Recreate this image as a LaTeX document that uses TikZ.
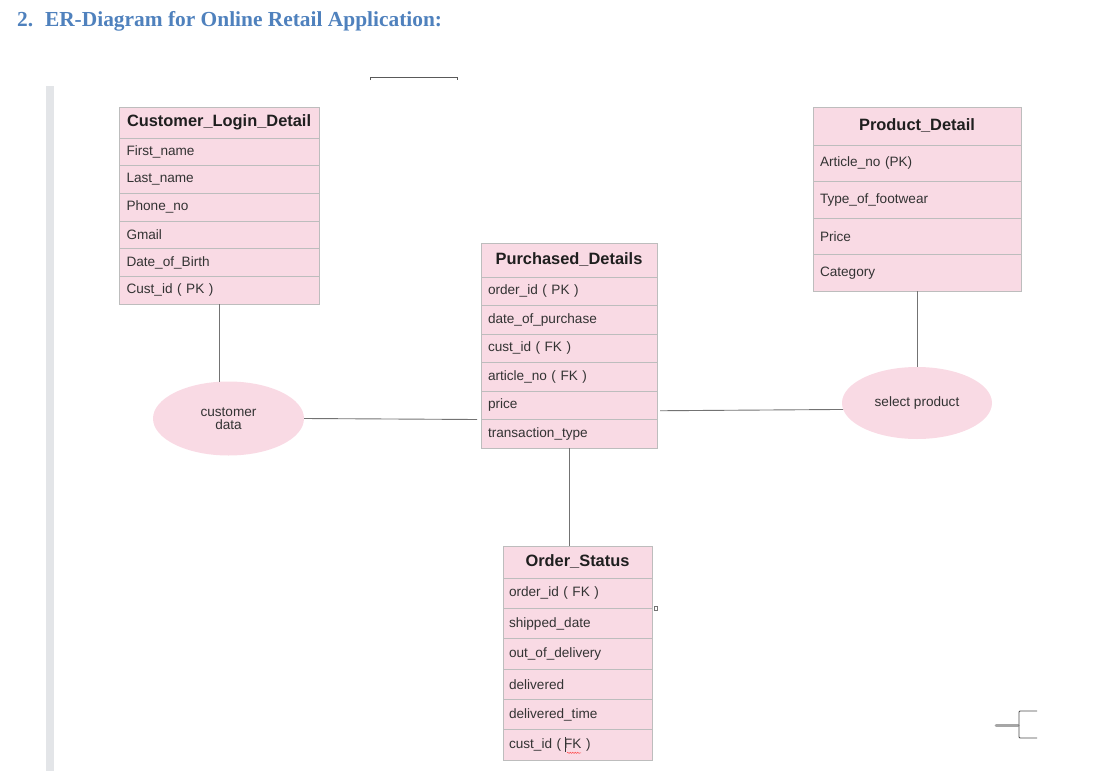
\documentclass[tikz,border=0pt]{standalone}
\usepackage{fontspec}
\setmainfont{Liberation Sans}
\newfontfamily\titlefont{Liberation Serif}
\usetikzlibrary{shapes.geometric,calc,decorations.pathmorphing}
\definecolor{cellpink}{HTML}{F9DAE4}
\definecolor{cellline}{HTML}{BDBDBD}
\definecolor{rowtxt}{HTML}{333333}
\definecolor{titleblue}{HTML}{4F81BD}
\definecolor{barcol}{HTML}{E3E5E8}
\tikzset{
  hdrleft/.style={draw=cellline, fill=cellpink, line width=0.8pt, outer sep=0pt, anchor=north west, inner xsep=8pt, inner ysep=0pt, align=left, text=black!88, font=\fontsize{16.4}{18}\selectfont\bfseries},
  hdrmid/.style={draw=cellline, fill=cellpink, line width=0.8pt, outer sep=0pt, anchor=north west, inner xsep=0pt, inner ysep=0pt, align=center, text=black!88, font=\fontsize{16.4}{18}\selectfont\bfseries},
  cell/.style={draw=cellline, fill=cellpink, line width=0.8pt, outer sep=0pt, anchor=north west, inner xsep=7pt, inner ysep=0pt, align=left, text=rowtxt, font=\fontsize{13.6}{15}\selectfont},
  attr/.style={ellipse, fill=cellpink, inner sep=0pt, outer sep=0pt, text=rowtxt, align=center, font=\fontsize{13.6}{12.5}\selectfont},
  link/.style={draw=black!55, line width=0.9pt}
}
\begin{document}
\begin{tikzpicture}[x=1pt,y=-1pt]
\useasboundingbox (0,0) rectangle (1096,771);
% title
\node[anchor=base west, inner sep=0pt, text=titleblue, font=\fontsize{21.4}{23}\selectfont\titlefont\bfseries] (title) at (17,26) {2.\hspace{0.55em}ER-Diagram for Online Retail Application:};
% left bar
\fill[barcol] (46,86) rectangle (54,771);
% top stray line
\draw[black!65, line width=0.8pt] (370,80) -- (370,77) -- (457,77) -- (457,80);

% Customer_Login_Detail
\node[hdrleft, text width=184pt, minimum height=31pt] (c0) at (119,107) {Customer\_Login\_Detail};
\node[cell, text width=185pt, inner xsep=7.5pt, minimum height=27.67pt] (c1) at (c0.south west) {First\_name};
\node[cell, text width=185pt, inner xsep=7.5pt, minimum height=27.67pt] (c2) at (c1.south west) {Last\_name};
\node[cell, text width=185pt, inner xsep=7.5pt, minimum height=27.67pt] (c3) at (c2.south west) {Phone\_no};
\node[cell, text width=185pt, inner xsep=7.5pt, minimum height=27.67pt] (c4) at (c3.south west) {Gmail};
\node[cell, text width=185pt, inner xsep=7.5pt, minimum height=27.67pt] (c5) at (c4.south west) {Date\_of\_Birth};
\node[cell, text width=185pt, inner xsep=7.5pt, minimum height=27.67pt] (c6) at (c5.south west) {Cust\_id ( PK )};

% Product_Detail
\node[hdrmid, text width=208pt, minimum height=38pt] (d0) at (813,107) {Product\_Detail};
\node[cell, text width=194pt, minimum height=36.5pt] (d1) at (d0.south west) {Article\_no (PK)};
\node[cell, text width=194pt, minimum height=36.5pt] (d2) at (d1.south west) {Type\_of\_footwear};
\node[cell, text width=194pt, minimum height=36.5pt] (d3) at (d2.south west) {Price};
\node[cell, text width=194pt, minimum height=36.5pt] (d4) at (d3.south west) {Category};

% Purchased_Details
\node[hdrmid, text width=176pt, minimum height=34pt] (p0) at (481,243) {Purchased\_Details};
\node[cell, text width=162pt, minimum height=28.5pt] (p1) at (p0.south west) {order\_id ( PK )};
\node[cell, text width=162pt, minimum height=28.5pt] (p2) at (p1.south west) {date\_of\_purchase};
\node[cell, text width=162pt, minimum height=28.5pt] (p3) at (p2.south west) {cust\_id ( FK )};
\node[cell, text width=162pt, minimum height=28.5pt] (p4) at (p3.south west) {article\_no ( FK )};
\node[cell, text width=162pt, minimum height=28.5pt] (p5) at (p4.south west) {price};
\node[cell, text width=162pt, minimum height=28.5pt] (p6) at (p5.south west) {transaction\_type};

% Order_Status
\node[hdrmid, text width=149pt, minimum height=32pt] (o0) at (503,546) {Order\_Status};
\node[cell, text width=137pt, inner xsep=6pt, minimum height=30.33pt] (o1) at (o0.south west) {order\_id ( FK )};
\node[cell, text width=137pt, inner xsep=6pt, minimum height=30.33pt] (o2) at (o1.south west) {shipped\_date};
\node[cell, text width=137pt, inner xsep=6pt, minimum height=30.33pt] (o3) at (o2.south west) {out\_of\_delivery};
\node[cell, text width=137pt, inner xsep=6pt, minimum height=30.33pt] (o4) at (o3.south west) {delivered};
\node[cell, text width=137pt, inner xsep=6pt, minimum height=30.33pt] (o5) at (o4.south west) {delivered\_time};
\node[cell, text width=137pt, inner xsep=6pt, minimum height=30.33pt] (o6) at (o5.south west) {cust\_id (\hspace{3pt}FK )};
\draw[black!55, line width=0.6pt] ([xshift=2pt]o1.south east) ++(0,-2) rectangle ++(3,4);
\draw[black!80, line width=0.7pt] ($(o6.west)+(62,-8)$) -- ++(0,15);
\draw[red!70, line width=0.5pt, decorate, decoration={snake, amplitude=0.6pt, segment length=2.5pt}] ($(o6.west)+(64,8)$) -- ++(14,0);

% attributes (ellipses)
\node[attr, minimum width=151pt, minimum height=74pt] (cd) at (228.5,418.5) {customer\\data};
\node[attr, minimum width=150pt, minimum height=72pt] (sp) at (917,403) {select product};

% connectors
\draw[link] (c6.south) -- (c6.south |- cd.north);
\draw[link] (cd.east) -- ([xshift=-4pt]p5.south west);
\draw[link] ([shift={(3pt,-5.5pt)}]p5.east) -- (sp.185);
\draw[link] (d4.south) -- (sp.north);
\draw[link] (p6.south) -- (p6.south |- o0.north);

% bottom-right stray mark
\draw[black!35, line width=3pt, line cap=round] (996,725) -- (1018,725);
\draw[black!70, line width=0.8pt, rounded corners=1pt] (1037,711) -- (1019,711) -- (1019,738) -- (1037,738);
\end{tikzpicture}
\end{document}
